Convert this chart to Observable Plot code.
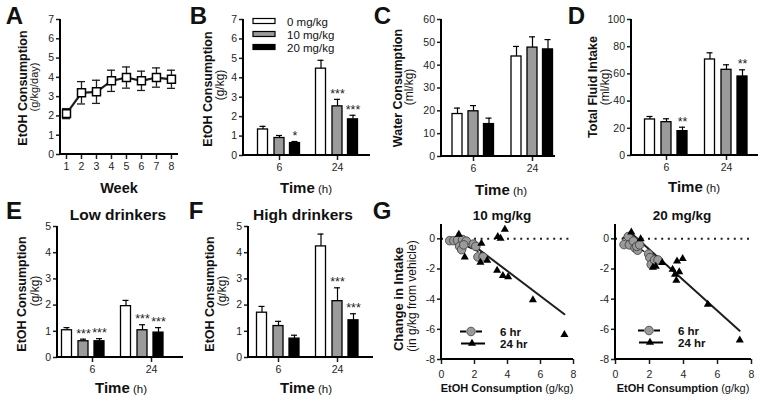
<!DOCTYPE html>
<html><head><meta charset="utf-8">
<script src="https://cdn.jsdelivr.net/npm/d3@7"></script>
<script src="https://cdn.jsdelivr.net/npm/@observablehq/plot@0.6"></script>
<style>
body{margin:0;background:#fff;}
#chart{position:relative;width:762px;height:402px;overflow:hidden;background:#fff;}
</style></head><body><div id="chart"></div>
<script>
const W = 762, H = 402;
const FONT = "'Liberation Sans', Arial, sans-serif";

// ---------- Panel A: weekly EtOH consumption ----------
const weeks = [1, 2, 3, 4, 5, 6, 7, 8];
const weeklyMean = [2.12, 3.2, 3.25, 3.82, 3.99, 3.82, 3.99, 3.9];
const weeklySem = [0.26, 0.58, 0.6, 0.55, 0.55, 0.5, 0.5, 0.47];

// ---------- Bar panels (rows: time 6 h, 24 h; cols: dose) ----------
const times = ["6", "24"];
const doses = ["0 mg/kg", "10 mg/kg", "20 mg/kg"];

const etohMean = [[1.34, 0.90, 0.64], [4.47, 2.53, 1.86]];
const etohSem = [[0.16, 0.13, 0.08], [0.43, 0.36, 0.21]];
const etohStars = [["", "", "*"], ["", "***", "***"]];

const waterMean = [[18.6, 19.8, 14.2], [43.8, 47.7, 46.9]];
const waterSem = [[2.6, 2.5, 2.6], [4.4, 4.7, 4.3]];
const waterStars = [["", "", ""], ["", "", ""]];

const fluidMean = [[26.5, 24.5, 17.9], [70.6, 63.0, 58.1]];
const fluidSem = [[2.2, 2.5, 2.9], [4.9, 3.7, 4.9]];
const fluidStars = [["", "", "**"], ["", "", "**"]];

const lowMean = [[1.04, 0.62, 0.62], [1.96, 1.04, 0.95]];
const lowSem = [[0.10, 0.08, 0.10], [0.22, 0.21, 0.19]];
const lowStars = [["", "***", "***"], ["", "***", "***"]];

const highMean = [[1.71, 1.20, 0.72], [4.24, 2.15, 1.42]];
const highSem = [[0.24, 0.18, 0.13], [0.47, 0.51, 0.25]];
const highStars = [["", "", ""], ["", "***", "***"]];

// ---------- Panel G: change in intake vs EtOH consumption ----------
const g10_6hX = [0.5, 0.75, 0.97, 1.28, 1.5, 1.1, 1.22, 1.35, 1.93, 2.08, 2.21, 2.52];
const g10_6hY = [-0.12, -0.12, -0.1, -0.05, -0.15, -0.5, -0.72, -0.4, -0.35, -0.5, -1.2, -1.2];
const g10_24hX = [1.05, 1.41, 2.42, 2.36, 2.77, 3.37, 3.41, 3.58, 3.84, 3.72, 4.04, 5.54, 7.45];
const g10_24hY = [0.3, -1.21, -0.3, -1.56, -1.43, -2.09, 0.15, 0.02, 0.62, -2.44, -2.53, -4.05, -6.35];
const g10_fit24X = [0.99, 7.45];
const g10_fit24Y = [0.35, -5.0];
const g10_fit6X = [0.45, 2.55];
const g10_fit6Y = [0.05, -1.0];

const g20_6hX = [0.5, 0.75, 0.82, 1.05, 1.15, 1.3, 1.25, 1.42, 1.95, 2.02, 2.1, 2.3, 2.5];
const g20_6hY = [-0.38, 0.15, -0.4, -0.15, -0.6, -0.75, -0.5, -0.4, -1.0, -1.25, -1.7, -1.4, -1.4];
const g20_24hX = [0.93, 1.48, 2.2, 2.37, 2.75, 3.36, 3.5, 3.58, 3.62, 3.75, 3.95, 5.43, 7.31];
const g20_24hY = [0.44, 0.0, -1.9, -1.83, -1.58, -2.03, -2.36, -2.75, -1.48, -2.2, -1.32, -4.34, -6.72];
const g20_fit24X = [0.9, 7.3];
const g20_fit24Y = [0.4, -6.1];
const g20_fit6X = [0.45, 2.55];
const g20_fit6Y = [0.1, -1.5];

// ---------- styles ----------
const doseFill = ["#ffffff", "#9b9b9b", "#000000"];

const root = document.getElementById("chart");
const SVGSTYLE = `font-family:${FONT};font-size:10.5px;color:#1e1e1e;background:transparent;position:absolute;left:0;top:0;overflow:visible;`;

function frameOpts(f) {
  return {width: W, height: H, marginLeft: f.L, marginRight: W - f.R, marginTop: f.T, marginBottom: H - f.B, style: SVGSTYLE};
}
const axisStyle = {strokeWidth: 1.5, label: null, tickFormat: d => String(d)};

// Panel A
const fA = {L: 60, R: 178, T: 19, B: 154};
{
  const rows = weeks.map((w, i) => ({week: w, mean: weeklyMean[i], sem: weeklySem[i]}));
  root.appendChild(Plot.plot({
    ...frameOpts(fA),
    x: {domain: [0.6, 8.47], axis: null},
    y: {domain: [0, 7], axis: null},
    marks: [
      Plot.ruleX(rows, {x: "week", y1: r => r.mean - r.sem, y2: r => r.mean + r.sem, strokeWidth: 1.3}),
      Plot.ruleY(rows, {x1: "week", x2: "week", y: r => r.mean + r.sem, insetLeft: -4, insetRight: -4, strokeWidth: 1.3}),
      Plot.ruleY(rows, {x1: "week", x2: "week", y: r => r.mean - r.sem, insetLeft: -4, insetRight: -4, strokeWidth: 1.3}),
      Plot.line(rows, {x: "week", y: "mean", strokeWidth: 2.2}),
      Plot.dot(rows, {x: "week", y: "mean", symbol: "square", r: 4.5, fill: "#fff", stroke: "#000", strokeWidth: 1.5}),
      Plot.axisX({...axisStyle, ticks: weeks, tickSize: 5, tickPadding: 3.5}),
      Plot.axisY({...axisStyle, ticks: d3.range(0, 8), tickSize: 4, tickPadding: 2.5})
    ]
  }));
}

function barPanel(f, mean, sem, stars, yMax, yStep, offsets) {
  const rows = [];
  times.forEach((t, i) => doses.forEach((d, j) => rows.push({time: t, dose: j, mean: mean[i][j], sem: sem[i][j], star: stars[i][j]})));
  const BW = 20, barW = 10, capW = 6;
  const step = f.c2 - f.c1, pi = 1 - BW / step, total = (f.R - f.L) / step, po = (total - 2 + pi) / 2;
  const leftover = (f.R - f.L) - step * (2 - pi), align = (f.c1 - BW / 2 - f.L) / leftover;
  const marks = [];
  doses.forEach((d, j) => {
    const dr = rows.filter(r => r.dose === j);
    const dx = offsets[j];
    marks.push(
      Plot.ruleX(dr, {x: "time", y1: "mean", y2: r => r.mean + r.sem, dx, stroke: "#000", strokeWidth: 1.2}),
      Plot.tickY(dr, {x: "time", y: r => r.mean + r.sem, dx, insetLeft: (BW - capW) / 2, insetRight: (BW - capW) / 2, stroke: "#000", strokeWidth: 1.2}),
      Plot.barY(dr, {x: "time", y: "mean", dx, insetLeft: (BW - barW) / 2, insetRight: (BW - barW) / 2, fill: doseFill[j], stroke: "#000", strokeWidth: 1.3}),
      Plot.text(dr.filter(r => r.star), {x: "time", y: r => r.mean + r.sem, text: "star", dx, dy: -1.5, lineAnchor: "bottom", fontSize: 12.5, fill: "#222"})
    );
  });
  marks.push(
    Plot.axisX({...axisStyle, tickSize: 5, tickPadding: 3.5}),
    Plot.axisY({...axisStyle, ticks: d3.range(0, yMax + 1e-9, yStep), tickSize: 4, tickPadding: 2.5})
  );
  root.appendChild(Plot.plot({
    ...frameOpts(f),
    x: {type: "band", domain: times, paddingInner: pi, paddingOuter: po, align, axis: null},
    y: {domain: [0, yMax], axis: null},
    marks
  }));
}

const fB = {L: 243, R: 370, T: 19, B: 155, c1: 278.5, c2: 337};
const fC = {L: 441, R: 555, T: 19, B: 156, c1: 473, c2: 532};
const fD = {L: 631, R: 758, T: 19, B: 155, c1: 666, c2: 726};
const fE = {L: 57, R: 183, T: 226, B: 357, c1: 92, c2: 151};
const fF = {L: 248, R: 373, T: 226, B: 357, c1: 278, c2: 337.5};
barPanel(fB, etohMean, etohSem, etohStars, 7, 1, [-16.5, 0, 15.5]);
barPanel(fC, waterMean, waterSem, waterStars, 60, 10, [-16, 0, 15.5]);
barPanel(fD, fluidMean, fluidSem, fluidStars, 100, 20, [-16.5, 0, 16]);
barPanel(fE, lowMean, lowSem, lowStars, 5, 1, [-25.5, -9, 7]);
barPanel(fF, highMean, highSem, highStars, 5, 1, [-16.5, 0, 16]);

function zip(xs, ys) { return xs.map((x, i) => ({x, y: ys[i]})); }
function scatterPanel(f, c6, t24, fit24, fit6) {
  root.appendChild(Plot.plot({
    ...frameOpts(f),
    x: {domain: [0, 8], axis: null},
    y: {domain: [-8, 0.95], axis: null},
    marks: [
      Plot.ruleY([0], {strokeDasharray: "2,4.6", strokeWidth: 2}),
      Plot.line(fit6, {x: "x", y: "y", strokeDasharray: "4,3", strokeWidth: 1.5}),
      Plot.line(fit24, {x: "x", y: "y", strokeWidth: 2}),
      Plot.dot(c6, {x: "x", y: "y", r: 4.3, fill: "#9a9a9a", stroke: "#3a3a3a", strokeWidth: 0.8}),
      Plot.dot(t24, {x: "x", y: "y", symbol: "triangle", r: 3, fill: "#000"}),
      Plot.axisX({...axisStyle, ticks: [0, 2, 4, 6, 8], tickSize: 5, tickPadding: 6}),
      Plot.axisY({...axisStyle, ticks: [0, -2, -4, -6, -8], tickSize: 4, tickPadding: 2.5})
    ]
  }));
}
const fG1 = {L: 441, R: 573, T: 224, B: 359};
const fG2 = {L: 615, R: 751, T: 224, B: 359};
scatterPanel(fG1, zip(g10_6hX, g10_6hY), zip(g10_24hX, g10_24hY), zip(g10_fit24X, g10_fit24Y), zip(g10_fit6X, g10_fit6Y));
scatterPanel(fG2, zip(g20_6hX, g20_6hY), zip(g20_24hX, g20_24hY), zip(g20_fit24X, g20_fit24Y), zip(g20_fit6X, g20_fit6Y));

// ---------- overlay: axis lines, labels, legends ----------
const ov = d3.create("svg").attr("width", W).attr("height", H)
  .attr("style", `position:absolute;left:0;top:0;font-family:${FONT};`);
for (const f of [fA, fB, fC, fD, fE, fF, fG1, fG2]) {
  ov.append("path").attr("d", `M${f.L},${f.T}V${f.B}H${f.R}`).attr("fill", "none").attr("stroke", "#000").attr("stroke-width", 2);
}
function label(x, y, parts, rotate = 0, anchor = "middle") {
  const size0 = parts[0][1];
  const g = ov.append("g").attr("transform", `translate(${x},${y}) rotate(${rotate})`);
  const t = g.append("text").attr("y", size0 * 0.36).attr("text-anchor", anchor).attr("fill", "#111");
  parts.forEach(([s, size, weight]) => t.append("tspan").attr("font-size", size).attr("font-weight", weight).text(s));
}
// panel letters
[["A", 14.5, 15.5], ["B", 198.5, 15.5], ["C", 382.5, 15.5], ["D", 576.5, 15.5], ["E", 14, 210], ["F", 196, 210], ["G", 382, 210]]
  .forEach(([s, x, y]) => label(x, y, [[s, 24, "bold"]]));
// y-axis titles
label(22, 88, [["EtOH Consumption", 12.5, "bold"]], -90);
label(34, 87, [["(g/kg/day)", 11, "normal"]], -90);
label(207, 89, [["EtOH Consumption", 12.5, "bold"]], -90);
label(220, 85, [["(g/kg)", 12, "normal"]], -90);
label(397, 88, [["Water Consumption", 12.5, "bold"]], -90);
label(409, 87, [["(ml/kg)", 12, "normal"]], -90);
label(592, 87, [["Total Fluid Intake", 12.5, "bold"]], -90);
label(605, 87, [["(ml/kg)", 12, "normal"]], -90);
label(21, 294, [["EtOH Consumption", 12.5, "bold"]], -90);
label(35, 291, [["(g/kg)", 12, "normal"]], -90);
label(209, 294, [["EtOH Consumption", 12.5, "bold"]], -90);
label(222, 291, [["(g/kg)", 12, "normal"]], -90);
label(398, 299, [["Change in Intake", 13, "bold"]], -90);
label(412, 296, [["(in g/kg from vehicle)", 12, "normal"]], -90);
// x-axis titles
label(119, 188, [["Week", 14.5, "bold"]]);
const timeLbl = [["Time", 15, "bold"], [" (h)", 11.5, "normal"]];
label(306, 188, timeLbl);
label(501, 190, timeLbl);
label(694, 187, timeLbl);
label(121, 388, timeLbl);
label(306, 388, timeLbl);
const etohLbl = [["EtOH Consumption", 11, "bold"], [" (g/kg)", 11, "normal"]];
label(507, 388, etohLbl);
label(683, 388, etohLbl);
// panel titles
label(118, 214, [["Low drinkers", 15.5, "bold"]]);
label(303, 214, [["High drinkers", 15.5, "bold"]]);
label(502, 215, [["10 mg/kg", 13.5, "bold"]]);
label(682, 215, [["20 mg/kg", 13.5, "bold"]]);
// legend B
doses.forEach((d, j) => {
  const y = 21 + j * 13;
  ov.append("rect").attr("x", 253).attr("y", y - 2.5).attr("width", 22).attr("height", 5)
    .attr("fill", doseFill[j]).attr("stroke", "#000").attr("stroke-width", 1.2);
  label(287, y + 0.5, [[d, 11.5, "normal"]], 0, "start");
});
// legends G
const tri = d3.symbol(d3.symbolTriangle, Math.PI * 9)();
[[460, 331.5, 343.5], [638, 330.5, 342.5]].forEach(([x0, y6, y24]) => {
  ov.append("line").attr("x1", x0).attr("x2", x0 + 6).attr("y1", y6).attr("y2", y6).attr("stroke", "#000").attr("stroke-width", 2);
  ov.append("line").attr("x1", x0 + 16).attr("x2", x0 + 22).attr("y1", y6).attr("y2", y6).attr("stroke", "#000").attr("stroke-width", 2);
  ov.append("circle").attr("cx", x0 + 11).attr("cy", y6).attr("r", 4.3).attr("fill", "#9a9a9a").attr("stroke", "#3a3a3a").attr("stroke-width", 0.8);
  ov.append("line").attr("x1", x0 + 1).attr("x2", x0 + 25).attr("y1", y24).attr("y2", y24).attr("stroke", "#000").attr("stroke-width", 2);
  ov.append("path").attr("d", tri).attr("transform", `translate(${x0 + 12},${y24})`).attr("fill", "#000");
  label(x0 + 40, y6, [["6 hr", 11.5, "bold"]], 0, "start");
  label(x0 + 40, y24, [["24 hr", 11.5, "bold"]], 0, "start");
});
root.appendChild(ov.node());
</script></body></html>
